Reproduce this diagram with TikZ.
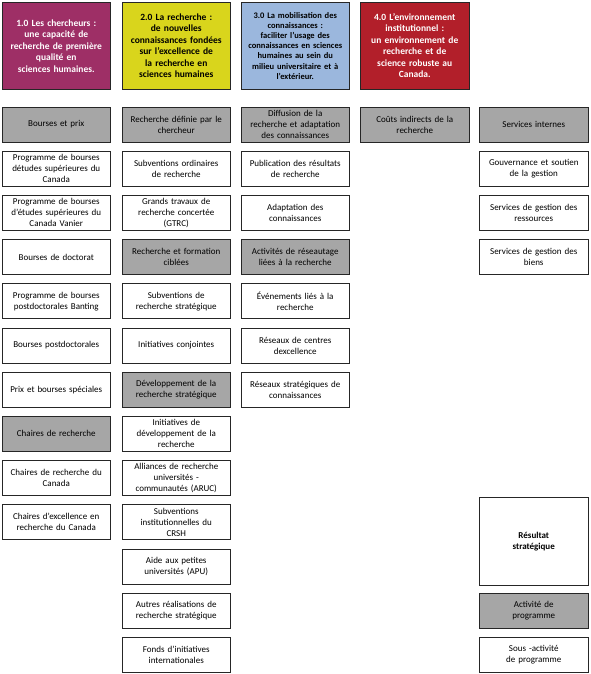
\documentclass[tikz,border=0pt]{standalone}
\usepackage{fontspec}
\setmainfont{Carlito}
\usepackage{xcolor}
\definecolor{colhead1}{HTML}{9E2F66}
\definecolor{colhead2}{HTML}{D9D51C}
\definecolor{colhead3}{HTML}{9BB7DD}
\definecolor{colhead4}{HTML}{B21F2A}
\definecolor{colgrey}{HTML}{A6A6A6}
\usepackage{tikz}
\usetikzlibrary{positioning}

\begin{document}
\begin{tikzpicture}[x=1pt,y=-1pt,node distance=9.2pt,
    box/.style={rectangle,draw=black!85,line width=0.9pt,fill=white,minimum width=108.5pt,minimum height=35pt,
        outer sep=0pt,text width=104pt,inner xsep=2pt,inner ysep=0pt,align=center,font=\fontsize{9}{11}\selectfont},
    greybox/.style={box,fill=colgrey},
    headbox/.style={rectangle,draw=black!85,line width=0.9pt,minimum width=108.5pt,minimum height=87.5pt,
        outer sep=0pt,text width=106pt,inner sep=1pt,align=center,font=\fontsize{9.5}{11.5}\selectfont\bfseries}]
    \useasboundingbox (0,0) rectangle (590,674);
    % Headers
    \node[headbox,fill=colhead1,text=white] (h1) at (56.25,45.75) {1.0 Les chercheurs :\\ une capacité de\\ recherche de première\\ qualité en\\ sciences humaines.};
    \node[headbox,fill=colhead2,right=11.5pt of h1] (h2) {2.0 La recherche :\\ de nouvelles\\ connaissances fondées\\ sur l'excellence de\\ la recherche en\\ sciences humaines};
    \node[headbox,fill=colhead3,right=10.5pt of h2,font=\fontsize{8.5}{10.2}\selectfont\bfseries] (h3) {3.0 La mobilisation des\\ connaissances :\\ faciliter l'usage des\\ connaissances en sciences\\ humaines au sein du\\ milieu universitaire et à\\ l'extérieur.};
    \node[headbox,fill=colhead4,text=white,right=11pt of h3] (h4) {4.0 L'environnement\\ institutionnel :\\ un environnement de\\ recherche et de\\ science robuste au\\ Canada.};
    % Column 1
    \node[greybox,below=17.5pt of h1] (a1) {Bourses et prix};
    \node[box,below=of a1] (a2) {Programme de bourses\\ détudes supérieures du\\ Canada};
    \node[box,below=of a2] (a3) {Programme de bourses\\ d'études supérieures du\\ Canada Vanier};
    \node[box,below=of a3] (a4) {Bourses de doctorat};
    \node[box,below=of a4] (a5) {Programme de bourses\\ postdoctorales Banting};
    \node[box,below=of a5] (a6) {Bourses postdoctorales};
    \node[box,below=of a6] (a7) {Prix et bourses spéciales};
    \node[greybox,below=of a7] (a8) {Chaires de recherche};
    \node[box,below=of a8] (a9) {Chaires de recherche du\\ Canada};
    \node[box,below=of a9] (a10) {Chaires d'excellence en\\ recherche du Canada};
    % Column 2
    \node[greybox,below=17.5pt of h2] (b1) {Recherche définie par le\\ chercheur};
    \node[box,below=of b1] (b2) {Subventions ordinaires\\ de recherche};
    \node[box,below=of b2] (b3) {Grands travaux de\\ recherche concertée\\ (GTRC)};
    \node[greybox,below=of b3] (b4) {Recherche et formation\\ ciblées};
    \node[box,below=of b4] (b5) {Subventions de\\ recherche stratégique};
    \node[box,below=of b5] (b6) {Initiatives conjointes};
    \node[greybox,below=of b6] (b7) {Développement de la\\ recherche stratégique};
    \node[box,below=of b7] (b8) {Initiatives de\\ développement de la\\ recherche};
    \node[box,below=of b8] (b9) {Alliances de recherche\\ universités -\\ communautés (ARUC)};
    \node[box,below=of b9] (b10) {Subventions\\ institutionnelles du\\ CRSH};
    \node[box,below=of b10] (b11) {Aide aux petites\\ universités (APU)};
    \node[box,below=of b11] (b12) {Autres réalisations de\\ recherche stratégique};
    \node[box,below=of b12] (b13) {Fonds d'initiatives\\ internationales};
    % Column 3
    \node[greybox,below=17.5pt of h3] (c1) {Diffusion de la\\ recherche et adaptation\\ des connaissances};
    \node[box,below=of c1] (c2) {Publication des résultats\\ de recherche};
    \node[box,below=of c2] (c3) {Adaptation des\\ connaissances};
    \node[greybox,below=of c3] (c4) {Activités de réseautage\\ liées à la recherche};
    \node[box,below=of c4] (c5) {Événements liés à la\\ recherche};
    \node[box,below=of c5] (c6) {Réseaux de centres\\ dexcellence};
    \node[box,below=of c6] (c7) {Réseaux stratégiques de\\ connaissances};
    % Column 4
    \node[greybox,below=17.5pt of h4] (d1) {Coûts indirects de la\\ recherche};
    % Column 5
    \node[greybox,right=10.5pt of d1] (e1) {Services internes};
    \node[box,below=of e1] (e2) {Gouvernance et soutien\\ de la gestion};
    \node[box,below=of e2] (e3) {Services de gestion des\\ ressources};
    \node[box,below=of e3] (e4) {Services de gestion des\\ biens};
    % Legend
    \node[greybox] (leg2) at (e1 |- b12) {Activité de\\ programme};
    \node[box,below=of leg2] (leg3) {Sous -activité\\ de programme};
    \node[box,minimum height=88pt,above=8pt of leg2,font=\fontsize{9}{11}\selectfont\bfseries] (leg1) {Résultat\\ stratégique};
\end{tikzpicture}
\end{document}
